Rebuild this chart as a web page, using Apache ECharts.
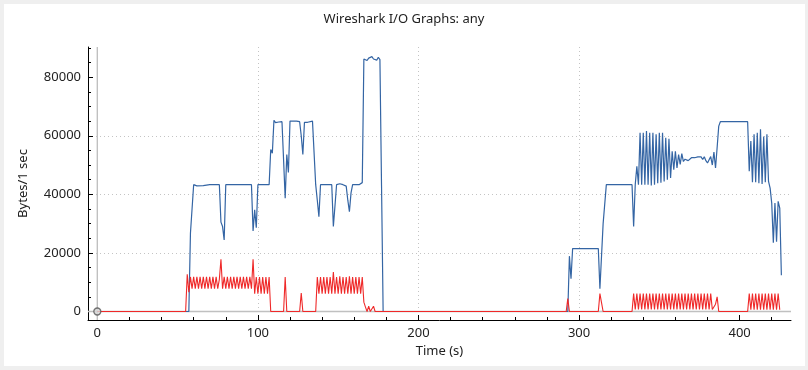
<!DOCTYPE html>
<html>
<head>
<meta charset="utf-8">
<script src="https://cdn.jsdelivr.net/npm/echarts@6/dist/echarts.min.js"></script>
<style>
html,body{margin:0;padding:0;background:#efefef;}
#frame{position:absolute;left:4px;top:4px;width:801px;height:362px;background:#fff;}
#c{position:absolute;left:0;top:0;width:808px;height:370px;}
</style>
</head>
<body>
<div id="frame"></div>
<div id="c"></div>
<script>
// ---- data (time in seconds, bytes per 1 sec) ----
const titleText = "Wireshark I/O Graphs: any";
const xName = "Time (s)";
const yName = "Bytes/1 sec";
const xTicks = [0, 100, 200, 300, 400];
const yTicks = [0, 20000, 40000, 60000, 80000];
const xRange = [-5.8, 432];
const yRange = [-2900, 90300];

// all packets (blue) - breakpoints
const blueT = [0,57,58,59,60,62,63,66,67,70,71,72,76,77,78,79,80,84,85,86,90,91,92,96,97,98,99,100,101,102,107,108,109,110,111,112,113,114,115,116,117,118,119,120,121,122,124,125,126,127,128,129,130,131,132,134,135,136,137,138,139,140,141,146,147,148,149,150,151,152,153,154,155,156,157,158,159,160,161,162,163,164,165,166,167,168,169,170,171,172,173,174,175,176,177,178,293,294,295,296,308,309,310,312,313,315,317,333,334,335,336,337,338,339,340,341,342,343,344,345,346,347,348,349,350,351,352,353,354,355,356,357,358,359,360,361,362,363,364,365,366,367,368,369,370,371,372,373,374,375,376,377,378,379,380,381,382,383,384,385,386,387,388,405,406,407,408,409,410,411,412,413,414,415,416,417,418,419,420,421,422,423,424,425,426];
const blueV = [0,0,26700,27000,43300,42900,43300,43000,43300,43300,43000,43300,43300,30500,29000,24400,43300,43300,43000,43300,43300,43000,43300,43300,27500,34700,28600,43300,42900,43300,43300,55300,54000,65300,64500,65000,64700,65200,64800,65000,38700,53600,47500,65000,64500,65000,65000,64500,64800,60000,53600,64600,65000,64600,65000,65000,64600,43300,38000,32400,43300,43000,43300,43300,29000,36000,43300,42900,43600,43000,43300,43300,42800,38000,34100,40500,43300,42900,43300,43600,43300,43300,44000,86200,86800,85700,86500,86000,87000,86200,86600,85800,86800,86000,43000,0,0,18900,11200,21500,21500,20900,21500,21500,7800,30000,43300,43300,29000,43300,49600,43300,61000,43300,61000,43300,61600,43300,61000,43000,61000,43300,60500,43800,61000,44000,61000,44400,59300,45000,59000,45600,54700,48400,54700,49000,53600,50200,53900,51200,52000,51900,51500,51900,52500,52000,52500,51900,52800,52200,52800,51900,52800,51500,50700,51300,52900,50000,54400,49000,56000,63300,64800,64800,47900,58200,44100,60500,44100,61000,43800,62200,43500,59700,44100,60500,44400,42100,37000,23500,37000,23800,37600,35300,12400];

// second graph (red) - breakpoints
const redT = [0,55,56,57,58,59,60,61,62,63,64,65,66,67,68,69,70,71,72,73,74,75,76,77,78,79,80,81,82,83,84,85,86,87,88,89,90,91,92,93,94,95,96,97,98,99,100,101,102,103,104,105,106,107,108,116,117,118,126,127,128,136,137,138,139,140,141,142,143,144,145,146,147,148,149,150,151,152,153,154,155,156,157,158,159,160,161,162,163,164,165,166,167,168,169,170,171,172,173,292,293,294,312,313,314,315,333,334,335,336,337,338,339,340,341,342,343,344,345,346,347,348,349,350,351,352,353,354,355,356,357,358,359,360,361,362,363,364,365,366,367,368,369,370,371,372,373,374,375,376,377,378,379,380,381,382,383,384,385,386,387,405,406,407,408,409,410,411,412,413,414,415,416,417,418,419,420,421,422,423,424,425];
const redV = [0,0,12700,6600,11800,7800,11800,7800,11800,7800,11800,7800,11800,7800,11800,7800,11800,7800,11800,7800,11800,7800,11000,17800,7800,11800,7800,11800,7800,11800,7800,11800,7800,11800,7800,11800,7800,11800,7800,11800,7800,11800,7800,17800,6100,11800,6100,11800,6100,11800,6100,11800,6100,11800,0,0,11800,0,0,6300,0,0,11800,6100,11800,6100,11800,6100,11800,6100,11800,6100,13500,6100,11800,6100,12000,6100,11800,6100,11800,6100,12000,6100,11800,6100,11800,6100,11800,6100,11800,3200,1500,0,1800,0,0,1800,0,0,4400,0,0,6100,3000,0,0,6100,700,6100,700,6100,700,6100,700,6100,700,6100,700,6100,700,6100,700,6100,700,6100,700,6100,700,6100,700,6100,700,6100,700,6100,700,6100,700,6100,700,6100,700,6100,700,6100,700,6100,700,6100,700,6100,700,6100,700,6100,700,700,2500,5000,0,0,6100,600,6100,600,6100,600,6100,600,6100,600,6100,600,6100,600,6100,600,6100,600,6100,600];

const blueData = blueT.map((t, i) => [t, blueV[i]]);
const redData = redT.map((t, i) => [t, redV[i]]);

const chart = echarts.init(document.getElementById('c'), null, {renderer: 'canvas'});
const font = '"Noto Sans", "DejaVu Sans", sans-serif';
const plain = v => String(v);
const zeroStyle = {color: '#c0c0c0', width: 1.4};
chart.setOption({
  animation: false,
  backgroundColor: 'transparent',
  textStyle: {fontFamily: font},
  title: {
    text: titleText, left: 'center', top: 8,
    textStyle: {fontSize: 13, fontWeight: 'normal', color: '#222', fontFamily: font}
  },
  grid: {left: 88, right: 17, top: 47, bottom: 50, containLabel: false},
  xAxis: {
    type: 'value', min: xRange[0], max: xRange[1], splitNumber: 5,
    name: xName, nameLocation: 'middle', nameGap: 24,
    nameTextStyle: {fontSize: 13, color: '#222', fontFamily: font},
    axisLine: {onZero: false, lineStyle: {color: '#000', width: 1}},
    axisTick: {inside: true, length: 5, lineStyle: {color: '#000'}, customValues: xTicks},
    minorTick: {show: true, splitNumber: 5, length: 3, lineStyle: {color: '#000'}},
    axisLabel: {customValues: xTicks, formatter: plain, fontSize: 13, color: '#222', margin: 7, fontFamily: font},
    splitLine: {show: true, showMinLine: false, showMaxLine: false, lineStyle: {color: '#c4c4c4', type: [1, 3], width: 1}}
  },
  yAxis: {
    type: 'value', min: yRange[0], max: yRange[1], splitNumber: 5,
    name: yName, nameLocation: 'middle', nameGap: 58,
    nameTextStyle: {fontSize: 13, color: '#222', fontFamily: font},
    axisLine: {onZero: false, lineStyle: {color: '#000', width: 1}},
    axisTick: {inside: true, length: 5, lineStyle: {color: '#000'}, customValues: yTicks},
    minorTick: {show: true, splitNumber: 4, length: 3, lineStyle: {color: '#000'}},
    axisLabel: {customValues: yTicks, formatter: plain, fontSize: 13, color: '#222', margin: 7, fontFamily: font},
    splitLine: {show: true, showMinLine: false, showMaxLine: false, lineStyle: {color: '#c4c4c4', type: [1, 3], width: 1}}
  },
  series: [
    {
      type: 'line', data: [[0, yRange[0]], [0, yRange[1]]], z: 1, silent: true, showSymbol: false,
      lineStyle: zeroStyle
    },
    {
      type: 'line', data: [[xRange[0], 0], [xRange[1], 0]], z: 1, silent: true, showSymbol: false,
      lineStyle: zeroStyle
    },
    {
      name: 'all', type: 'line', data: blueData, z: 2, showSymbol: false,
      lineStyle: {color: '#3465a4', width: 1.2}, itemStyle: {color: '#3465a4'}
    },
    {
      name: 'red', type: 'line', data: redData, z: 3, showSymbol: false,
      lineStyle: {color: '#ef2929', width: 1.1}, itemStyle: {color: '#ef2929'}
    },
    {
      type: 'scatter', data: [[0, 0]], z: 4, symbol: 'circle', symbolSize: 7,
      itemStyle: {color: '#d8d8d8', borderColor: '#555', borderWidth: 1.3}
    }
  ]
});
</script>
</body>
</html>
